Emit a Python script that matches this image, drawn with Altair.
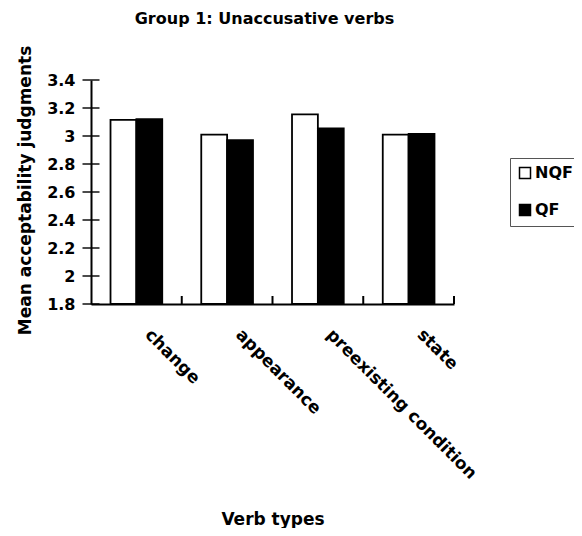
import altair as alt
import pandas as pd

categories = ["change", "appearance", "preexisting condition", "state"]
groups = ["NQF", "QF"]
nqf_values = [3.115, 3.01, 3.155, 3.01]
qf_values = [3.12, 2.97, 3.055, 3.015]
y_ticks = [1.8, 2.0, 2.2, 2.4, 2.6, 2.8, 3.0, 3.2, 3.4]
x_boundaries = [1, 2, 3, 4]

rows = []
for c, a, b in zip(categories, nqf_values, qf_values):
    rows.append({"cat": c, "grp": "NQF", "val": a})
    rows.append({"cat": c, "grp": "QF", "val": b})
df = pd.DataFrame(rows)
ticks_df = pd.DataFrame({"v": y_ticks})
bounds_df = pd.DataFrame({"b": x_boundaries})

W, H = 363, 224
FONT = "DejaVu Sans"

y_scale = alt.Scale(domain=[1.8, 3.4], nice=False, zero=False)
y_axis = alt.Axis(title="Mean acceptability judgments", values=y_ticks,
                  format=".1~f", ticks=False, grid=False, labelOverlap=False,
                  domainColor="black", domainWidth=2, labelPadding=16,
                  labelFont=FONT, labelFontSize=16, labelFontWeight="bold",
                  labelColor="black",
                  titleFont=FONT, titleFontSize=17, titleFontWeight="bold",
                  titleColor="black", titleAngle=-90, titleAlign="center",
                  titleBaseline="middle", titleX=-66, titleY=110)

bars = alt.Chart(df).mark_bar(stroke="black", strokeWidth=1.8).encode(
    x=alt.X("cat:N", sort=categories,
            scale=alt.Scale(domain=categories, paddingInner=0.43, paddingOuter=0.215),
            axis=alt.Axis(title="Verb types", labelAngle=45, labelAlign="left",
                          labelBaseline="top", labelPadding=22, labelOffset=17,
                          ticks=False, domainColor="black", domainWidth=2,
                          labelFont=FONT, labelFontSize=17, labelFontWeight="bold",
                          labelColor="black", labelLimit=400, labelOverlap=False,
                          titleFont=FONT, titleFontSize=17, titleFontWeight="bold",
                          titleColor="black", titleY=207, titleBaseline="top")),
    xOffset=alt.XOffset("grp:N", sort=groups,
                        scale=alt.Scale(domain=groups, paddingInner=0, paddingOuter=0)),
    y=alt.Y("val:Q", scale=y_scale, axis=y_axis),
    y2=alt.datum(1.8),
    color=alt.Color("grp:N", sort=groups,
                    scale=alt.Scale(domain=groups, range=["white", "black"]),
                    legend=alt.Legend(title=None, orient="none", legendX=419, legendY=78,
                                      symbolType="square", symbolSize=121,
                                      symbolStrokeColor="black", symbolStrokeWidth=1.5,
                                      labelFont=FONT, labelFontSize=16, labelFontWeight="bold",
                                      labelColor="black", labelOffset=2, rowPadding=19,
                                      padding=7, strokeColor="#555", fillColor="white")),
)

yticks = alt.Chart(ticks_df).mark_tick(orient="horizontal", size=17, thickness=2, color="black").encode(
    y=alt.Y("v:Q", scale=y_scale, axis=y_axis),
    x=alt.value(0),
)

xticks = alt.Chart(bounds_df).mark_rule(color="black", strokeWidth=2).encode(
    x=alt.X("b:Q", scale=alt.Scale(domain=[0, 4], nice=False, zero=True), axis=None),
    y=alt.value(H - 8),
    y2=alt.value(H),
)

chart = alt.layer(bars, yticks, xticks).resolve_scale(x="independent").properties(
    width=W, height=H,
    title=alt.TitleParams("Group 1: Unaccusative verbs", font=FONT, fontSize=16,
                          fontWeight="bold", color="black", anchor="middle",
                          frame="group", offset=18, dx=-8),
    autosize=alt.AutoSizeParams(type="none"),
    padding={"left": 83, "top": 72, "right": 120, "bottom": 224},
).configure_view(stroke=None).configure_axis(grid=False)

chart.save("out.html", embed_options={"renderer": "svg", "actions": False})
